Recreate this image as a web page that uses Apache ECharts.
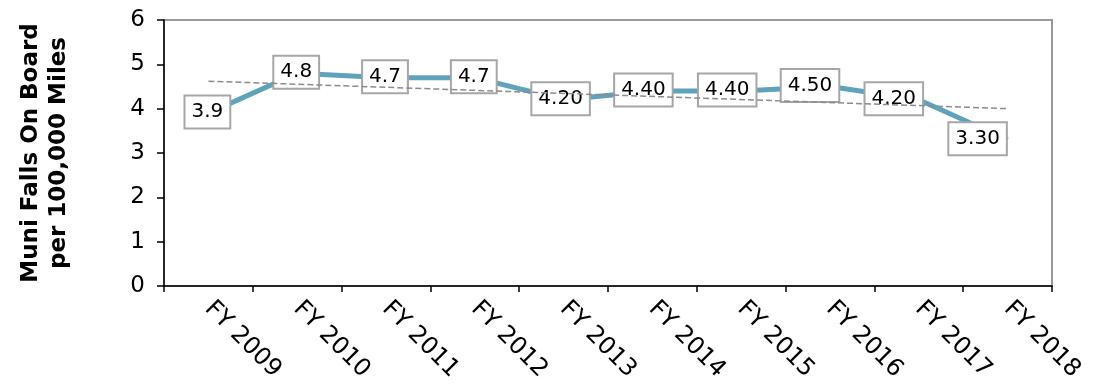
<!DOCTYPE html>
<html>
<head>
<meta charset="utf-8">
<script src="https://cdn.jsdelivr.net/npm/echarts@6/dist/echarts.min.js"></script>
<style>
  html, body { margin: 0; padding: 0; background: #fff; }
  #chart { width: 1103px; height: 388px; }
</style>
</head>
<body>
<div id="chart"></div>
<script>
// Fiscal years on the category axis
const categories = ['FY 2009', 'FY 2010', 'FY 2011', 'FY 2012', 'FY 2013',
                    'FY 2014', 'FY 2015', 'FY 2016', 'FY 2017', 'FY 2018'];
// Falls on board per 100,000 miles
const fallsRate = [3.9, 4.8, 4.7, 4.7, 4.2, 4.4, 4.4, 4.5, 4.2, 3.3];
// Text shown in each data label
const labelText = ['3.9', '4.8', '4.7', '4.7', '4.20', '4.40', '4.40', '4.50', '4.20', '3.30'];
// Linear trend: value at the first and last fiscal year
const trendStart = 4.62;
const trendEnd = 4.00;
// Y axis range and step
const yMin = 0, yMax = 6, yStep = 1;

// Horizontal nudge of each label box (px)
const labelShift = [-1, -1, -1, -1, -3, -9, -14, -20, -25, -30];

const FONT = '"DejaVu Sans", sans-serif';
const LINE_COLOR = '#5FA2BC';

const chart = echarts.init(document.getElementById('chart'), null, { renderer: 'canvas' });

const mainData = fallsRate.map((v, i) => ({
  value: v,
  label: { offset: [labelShift[i], -1], formatter: labelText[i] }
}));

const option = {
  animation: false,
  backgroundColor: '#ffffff',
  grid: {
    left: 164, right: 51, top: 20, bottom: 102,
    show: true, borderColor: '#999', borderWidth: 2,
    backgroundColor: 'transparent'
  },
  xAxis: {
    type: 'category',
    data: categories,
    boundaryGap: true,
    axisLine: { show: true, lineStyle: { color: '#000', width: 1.5 } },
    axisTick: { show: true, length: 6, interval: 0, lineStyle: { color: '#000', width: 1.5 } },
    axisLabel: {
      interval: 0, rotate: -45, margin: 19,
      color: '#000', fontFamily: FONT, fontSize: 24
    },
    splitLine: { show: false }
  },
  yAxis: {
    type: 'value',
    min: yMin, max: yMax, interval: yStep,
    name: 'Muni Falls On Board\nper 100,000 Miles',
    nameLocation: 'middle',
    nameGap: 91,
    nameRotate: 90,
    nameTextStyle: {
      color: '#000', fontFamily: FONT, fontSize: 23, fontWeight: 'bold', lineHeight: 28
    },
    axisLine: { show: true, lineStyle: { color: '#000', width: 1.5 } },
    axisTick: { show: true, inside: false, length: 7, lineStyle: { color: '#000', width: 1.5 } },
    axisLabel: { margin: 19, color: '#000', fontFamily: FONT, fontSize: 23 },
    splitLine: { show: false }
  },
  series: [
    {
      name: 'Falls',
      type: 'line',
      z: 2,
      data: mainData,
      symbol: 'circle',
      symbolSize: 0.1,
      showSymbol: true,
      lineStyle: { color: LINE_COLOR, width: 5 },
      itemStyle: { color: LINE_COLOR },
      label: {
        show: true,
        position: 'inside',
        color: '#000',
        fontFamily: FONT,
        fontSize: 20,
        lineHeight: 22,
        backgroundColor: '#fff',
        borderColor: '#a6a6a6',
        borderWidth: 2,
        padding: [5, 6, 4, 6]
      },
      emphasis: { disabled: true }
    },
    {
      name: 'Trend',
      type: 'line',
      z: 5,
      data: [[0, trendStart], [categories.length - 1, trendEnd]],
      symbol: 'none',
      lineStyle: { color: '#8c8c8c', width: 1.5, type: [6, 3] },
      emphasis: { disabled: true }
    }
  ]
};

chart.setOption(option);
</script>
</body>
</html>
